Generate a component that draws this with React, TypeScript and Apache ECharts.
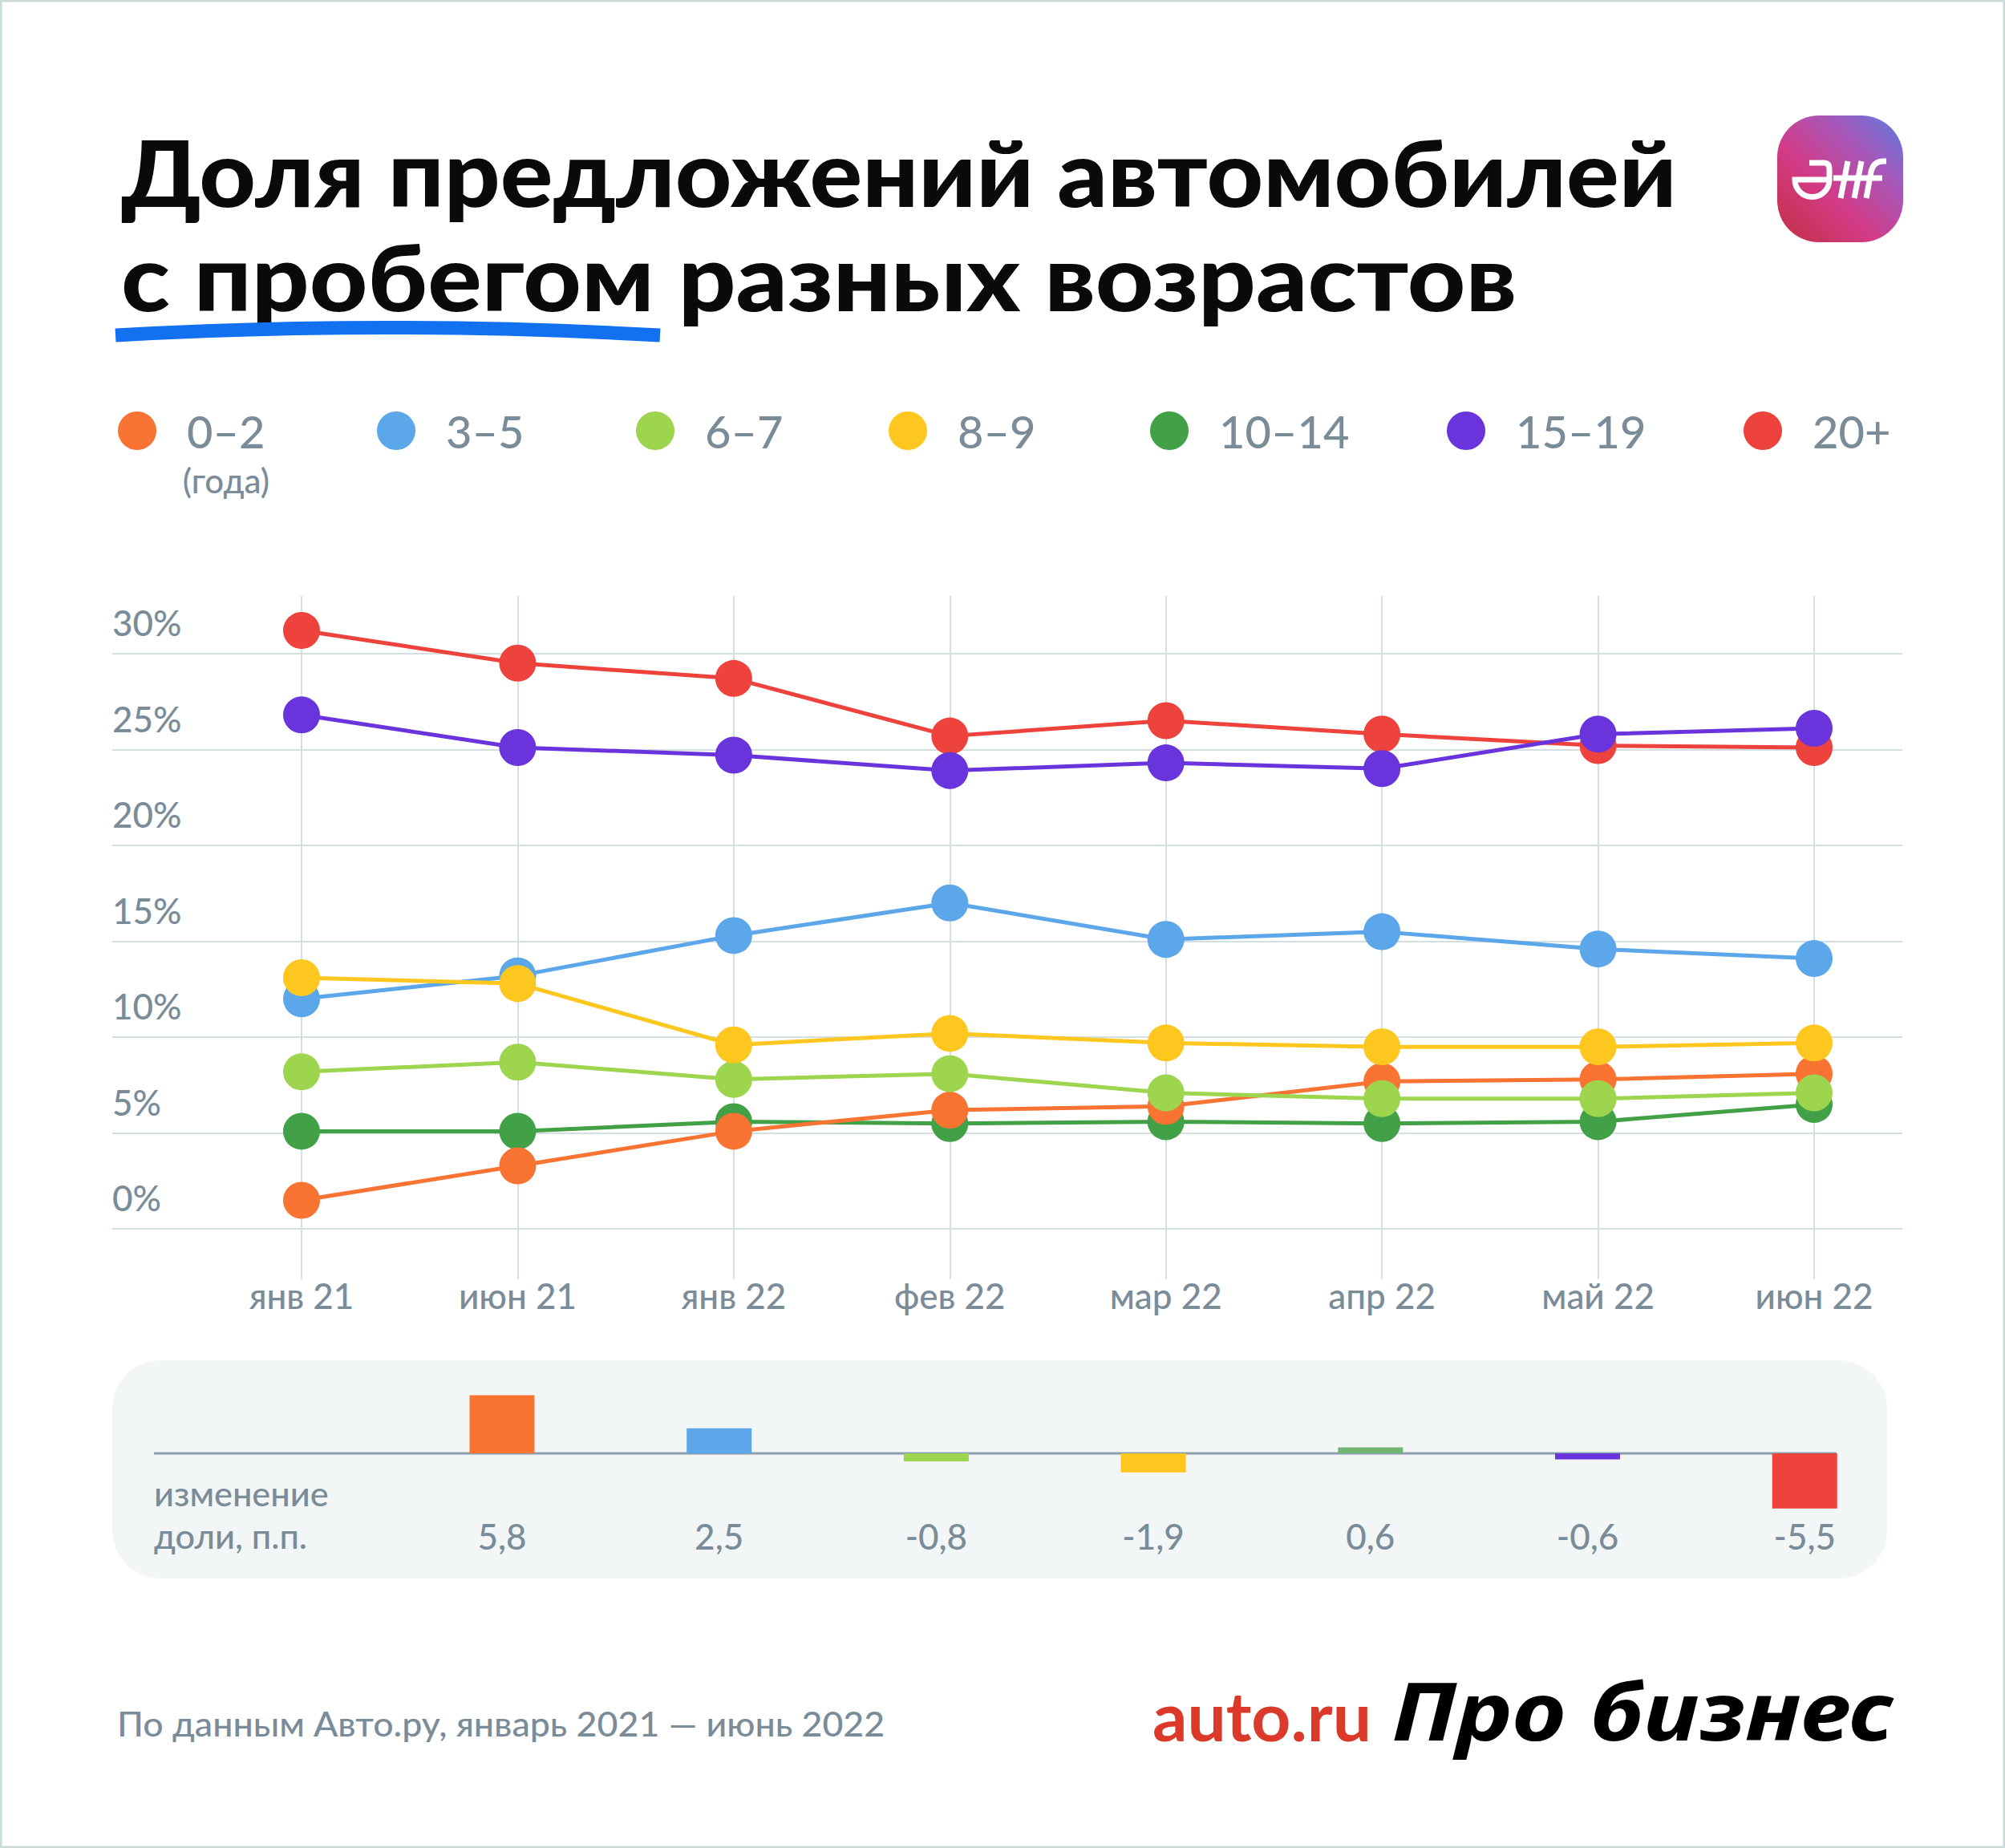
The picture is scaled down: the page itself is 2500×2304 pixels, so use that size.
import React, { useEffect, useRef } from 'react';
import * as echarts from 'echarts';

// ---------- data ----------
const months = ['янв 21', 'июн 21', 'янв 22', 'фев 22', 'мар 22', 'апр 22', 'май 22', 'июн 22'];
const ageGroups = ['0–2', '3–5', '6–7', '8–9', '10–14', '15–19', '20+'];

const share0to2 = [1.5, 3.3, 5.1, 6.2, 6.4, 7.7, 7.8, 8.1];
const share3to5 = [12.0, 13.2, 15.3, 17.0, 15.1, 15.5, 14.6, 14.1];
const share6to7 = [8.2, 8.7, 7.8, 8.1, 7.1, 6.8, 6.8, 7.1];
const share8to9 = [13.1, 12.8, 9.6, 10.2, 9.7, 9.5, 9.5, 9.7];
const share10to14 = [5.1, 5.1, 5.6, 5.5, 5.6, 5.5, 5.6, 6.5];
const share15to19 = [26.8, 25.1, 24.7, 23.9, 24.3, 24.0, 25.8, 26.1];
const share20plus = [31.2, 29.5, 28.7, 25.7, 26.5, 25.8, 25.2, 25.1];

const shareChange = [5.8, 2.5, -0.8, -1.9, 0.6, -0.6, -5.5];

const yTickMin = 0;
const yTickMax = 30;
const yTickStep = 5;

// ---------- styles ----------
const lineColors = ['#F97333', '#5BA7E9', '#9DD54E', '#FEC71F', '#42A046', '#6A34DD', '#EE423C'];
const barColors = ['#F97333', '#5BA7E9', '#9DD54E', '#FEC71F', '#72B673', '#6A34DD', '#EE423C'];
const legendLeft = [147, 470, 593 + 200, 1108, 1434, 1804, 2174];
const GRAY = '#7B8C99';
const GRID_LINE = '#D3DFE0';
const FONT = 'Lato, "Noto Sans", sans-serif';

const LOGO_PATH =
  'M40 59 L58 59 Q65 59 65 67 L65 80 A21.5 21.5 0 0 1 22 80 L65 80 ' +
  'M79 103 L88 57 M96 103 L105 57 M70 78 L131 78 ' +
  'M111 103 L117 70 Q120 57 132 57 L136 57';

let registered = false;

const txt = (x: number, y: number, text: string, extra: any, scaleX = 1, align = 'left') => ({
  type: 'text',
  x,
  y,
  scaleX,
  style: {
    text,
    fontFamily: FONT,
    fill: GRAY,
    align,
    verticalAlign: 'middle',
    textAlign: align,
    textVerticalAlign: 'middle',
    ...extra,
  },
});

export default function App() {
  const ref = useRef<HTMLDivElement>(null);

  useEffect(() => {
    if (!ref.current) return;
    if (!registered) {
      echarts.graphic.registerShape('aifLogo', echarts.graphic.extendPath(LOGO_PATH, {}) as any);
      registered = true;
    }
    const chart = echarts.init(ref.current, undefined, { renderer: 'svg' });

    const seriesData = [share0to2, share3to5, share6to7, share8to9, share10to14, share15to19, share20plus];
    const drawOrder = [4, 0, 2, 1, 3, 6, 5];

    const lineSeries = drawOrder.map((i) => ({
      name: ageGroups[i],
      type: 'line',
      xAxisIndex: 0,
      yAxisIndex: 0,
      data: seriesData[i],
      symbol: 'circle',
      symbolSize: 46,
      showSymbol: true,
      lineStyle: { color: lineColors[i], width: 5 },
      itemStyle: { color: lineColors[i] },
      emphasis: { disabled: true },
      z: 3,
    }));

    const legends = ageGroups.map((name, i) => ({
      data: [name],
      left: legendLeft[i],
      top: 509,
      padding: 0,
      icon: 'circle',
      itemWidth: 48,
      itemHeight: 48,
      selectedMode: false,
      textStyle: {
        fontSize: 56,
        color: GRAY,
        fontFamily: FONT,
        fontWeight: 500,
        lineHeight: 48,
        padding: [0, 0, 0, 33],
      },
    }));

    const fmt = (v: number) => v.toFixed(1).replace('.', ',');

    const option: any = {
      animation: false,
      backgroundColor: '#ffffff',
      textStyle: { fontFamily: FONT },
      legend: legends,
      grid: [
        { left: 376, right: 238, top: 743, bottom: 709 },
        { left: 140, right: 128, top: 815, bottom: 772 },
        { left: 490.6, right: 114.4, top: 1712, bottom: 414 },
      ],
      xAxis: [
        {
          gridIndex: 0,
          type: 'category',
          data: months,
          boundaryGap: false,
          axisLine: { show: false },
          axisTick: { show: false },
          splitLine: { show: true, lineStyle: { color: GRID_LINE, width: 2 } },
          axisLabel: { fontSize: 44, fontWeight: 500, color: GRAY, margin: -2, lineHeight: 44, fontFamily: FONT },
        },
        { gridIndex: 1, type: 'value', show: false, min: 0, max: 1 },
        {
          gridIndex: 2,
          type: 'category',
          data: shareChange.map(fmt),
          axisLine: { show: false },
          axisTick: { show: false },
          splitLine: { show: false },
          axisLabel: { fontSize: 44, fontWeight: 500, color: GRAY, margin: 3, lineHeight: 44, fontFamily: FONT },
        },
      ],
      yAxis: [
        { gridIndex: 0, type: 'value', min: -2.617, max: 33.0, show: false, splitLine: { show: false } },
        {
          gridIndex: 1,
          type: 'value',
          min: yTickMin,
          max: yTickMax,
          interval: yTickStep,
          axisLine: { show: false },
          axisTick: { show: false },
          splitLine: { show: true, lineStyle: { color: GRID_LINE, width: 2 } },
          axisLabel: {
            inside: true,
            margin: 0,
            verticalAlign: 'bottom',
            fontSize: 44,
            fontWeight: 500,
            lineHeight: 44,
            padding: [0, 0, 17, 0],
            color: GRAY,
            fontFamily: FONT,
            formatter: '{value}%',
          },
        },
        { gridIndex: 2, type: 'value', min: -6.24, max: 8, show: false, splitLine: { show: false } },
      ],
      series: [
        ...lineSeries,
        {
          type: 'bar',
          xAxisIndex: 2,
          yAxisIndex: 2,
          barWidth: 81,
          data: shareChange.map((v, i) => ({ value: v, itemStyle: { color: barColors[i] } })),
          emphasis: { disabled: true },
          z: 3,
        },
      ],
      graphic: [
        // outer frame
        { type: 'rect', shape: { x: 1, y: 1, width: 2498, height: 2302 }, style: { fill: 'none', stroke: '#CAD9DA', lineWidth: 3 }, z: 0 },
        // title
        txt(151, 213, 'Доля предложений автомобилей', { fontSize: 115, fontWeight: 900, fill: '#0a0a0a' }, 1.066),
        txt(151, 344, 'с пробегом разных возрастов', { fontSize: 115, fontWeight: 900, fill: '#0a0a0a' }, 1.095),
        {
          type: 'bezierCurve',
          shape: { x1: 144, y1: 418, x2: 823, y2: 418, cpx1: 483, cpy1: 399 },
          style: { stroke: '#1271F0', lineWidth: 17, fill: 'none', lineCap: 'butt' },
        },
        // logo
        {
          type: 'rect',
          shape: { x: 2216, y: 144, width: 157, height: 158, r: 52 },
          style: {
            fill: {
              type: 'linear', x: 0, y: 1, x2: 1, y2: 0,
              colorStops: [
                { offset: 0, color: '#C42F42' },
                { offset: 0.4, color: '#D23B87' },
                { offset: 0.72, color: '#A35ABD' },
                { offset: 1, color: '#5A7BDF' },
              ],
            },
          },
        },
        {
          type: 'aifLogo', x: 2216, y: 144,
          style: { stroke: '#ffffff', lineWidth: 7, fill: 'none', lineCap: 'butt' },
          z: 5,
        },
        // legend note
        txt(282, 599, '(года)', { fontSize: 42, fontWeight: 500 }, 1, 'center'),
        // change panel
        { type: 'rect', shape: { x: 140, y: 1696, width: 2213, height: 272, r: 60 }, style: { fill: '#F3F6F7' }, z: -1 },
        { type: 'line', shape: { x1: 192, y1: 1812, x2: 2290, y2: 1812 }, style: { stroke: '#8C9DAB', lineWidth: 3 }, z: 0 },
        txt(192, 1862, 'изменение', { fontSize: 42, fontWeight: 500 }, 1.03),
        txt(192, 1915, 'доли, п.п.', { fontSize: 42, fontWeight: 500 }, 1.03),
        // footer
        {
          type: 'line', shape: { x1: 146, y1: 2031, x2: 2355, y2: 2031 },
          style: {
            lineWidth: 2,
            stroke: { type: 'linear', x: 0, y: 0, x2: 1, y2: 0, colorStops: [{ offset: 0, color: '#E5443F' }, { offset: 0.85, color: '#E5443F' }, { offset: 1, color: '#DA5A9E' }] },
          },
        },
        txt(146, 2148, 'По данным Авто.ру, январь 2021 — июнь 2022', { fontSize: 43, fontWeight: 500 }, 1.04),
        txt(1437, 2138, 'auto.ru', { fontSize: 84, fontWeight: 'bold', fill: '#DB3A2A' }, 1.02),
        txt(1736, 2131, 'Про бизнес', { fontSize: 100, fontStyle: 'italic', fontWeight: 'bold', fontFamily: '"Noto Sans", sans-serif', fill: '#000000' }, 1.17),
      ],
    };

    chart.setOption(option);
    return () => chart.dispose();
  }, []);

  return (
    <div
      ref={ref}
      style={{ position: 'fixed', left: 0, top: 0, width: 2500, height: 2304, background: '#fff' }}
    />
  );
}
